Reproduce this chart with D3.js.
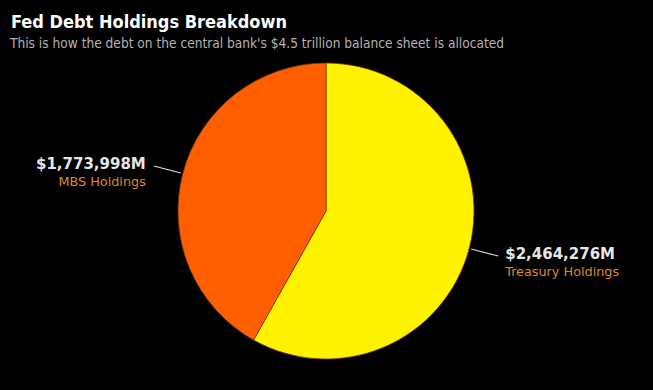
<!DOCTYPE html>
<html>
<head>
<meta charset="utf-8">
<script src="https://cdn.jsdelivr.net/npm/d3@7"></script>
<style>
    body { margin: 0; background: #000; }
    svg { display: block; }
</style>
</head>
<body>
<div id="chart"></div>
<script>

// Slices, in the order they are drawn clockwise from 12 o'clock
var categories = ["Treasury Holdings", "MBS Holdings"];
var holdings = [2464276, 1773998]; // $ millions
var sliceColors = ["#fff200", "#ff5f00"];

var width = 653;
var height = 390;
var cx = 326, cy = 211, radius = 148;

var svg = d3.select("#chart").append("svg")
    .attr("width", width)
    .attr("height", height)
    .style("background", "#000");

// Title and subtitle
svg.append("text")
    .attr("x", 11)
    .attr("y", 28)
    .attr("fill", "#fff")
    .attr("font-family", "DejaVu Sans Condensed")
    .attr("font-weight", "bold")
    .attr("font-size", "18px")
    .text("Fed Debt Holdings Breakdown");

svg.append("text")
    .attr("x", 10)
    .attr("y", 48)
    .attr("fill", "#b3b3b3")
    .attr("font-family", "DejaVu Sans Condensed")
    .attr("font-size", "13.6px")
    .text("This is how the debt on the central bank's $4.5 trillion balance sheet is allocated");

var data = categories.map(function(c, i) {
    return {name: c, value: holdings[i], color: sliceColors[i]};
});

var pie = d3.pie().sort(null).value(d => d.value);
var arcs = pie(data);

var arc = d3.arc().innerRadius(0).outerRadius(radius);

var g = svg.append("g").attr("transform", `translate(${cx},${cy})`);

g.selectAll("path")
    .data(arcs)
    .join("path")
    .attr("d", arc)
    .attr("fill", d => d.data.color)
    .attr("stroke", "#7a3a00")
    .attr("stroke-width", 0.8);

// Leader lines go out from the middle of each slice
var fmt = d3.format(",");
function polar(a, r) { return [Math.sin(a) * r, -Math.cos(a) * r]; }

arcs.forEach(function(d) {
    var mid = (d.startAngle + d.endAngle) / 2;
    var p1 = polar(mid, radius + 2);
    var p2 = polar(mid, radius + 30);
    var right = Math.sin(mid) > 0;

    g.append("line")
        .attr("x1", p1[0]).attr("y1", p1[1])
        .attr("x2", p2[0]).attr("y2", p2[1])
        .attr("stroke", "#ddd")
        .attr("stroke-width", 1.2);

    var tx = p2[0] + (right ? 7 : -8);
    var anchor = right ? "start" : "end";

    g.append("text")
        .attr("x", tx)
        .attr("y", p2[1] + 3)
        .attr("text-anchor", anchor)
        .attr("fill", "#e6e6e6")
        .attr("font-family", "DejaVu Sans")
        .attr("font-weight", "bold")
        .attr("font-size", "15px")
        .text("$" + fmt(d.data.value) + "M");

    g.append("text")
        .attr("x", tx)
        .attr("y", p2[1] + 20)
        .attr("text-anchor", anchor)
        .attr("fill", "#dc8a2e")
        .attr("font-family", "DejaVu Sans")
        .attr("font-size", "12.8px")
        .text(d.data.name);
});

</script>
</body>
</html>
